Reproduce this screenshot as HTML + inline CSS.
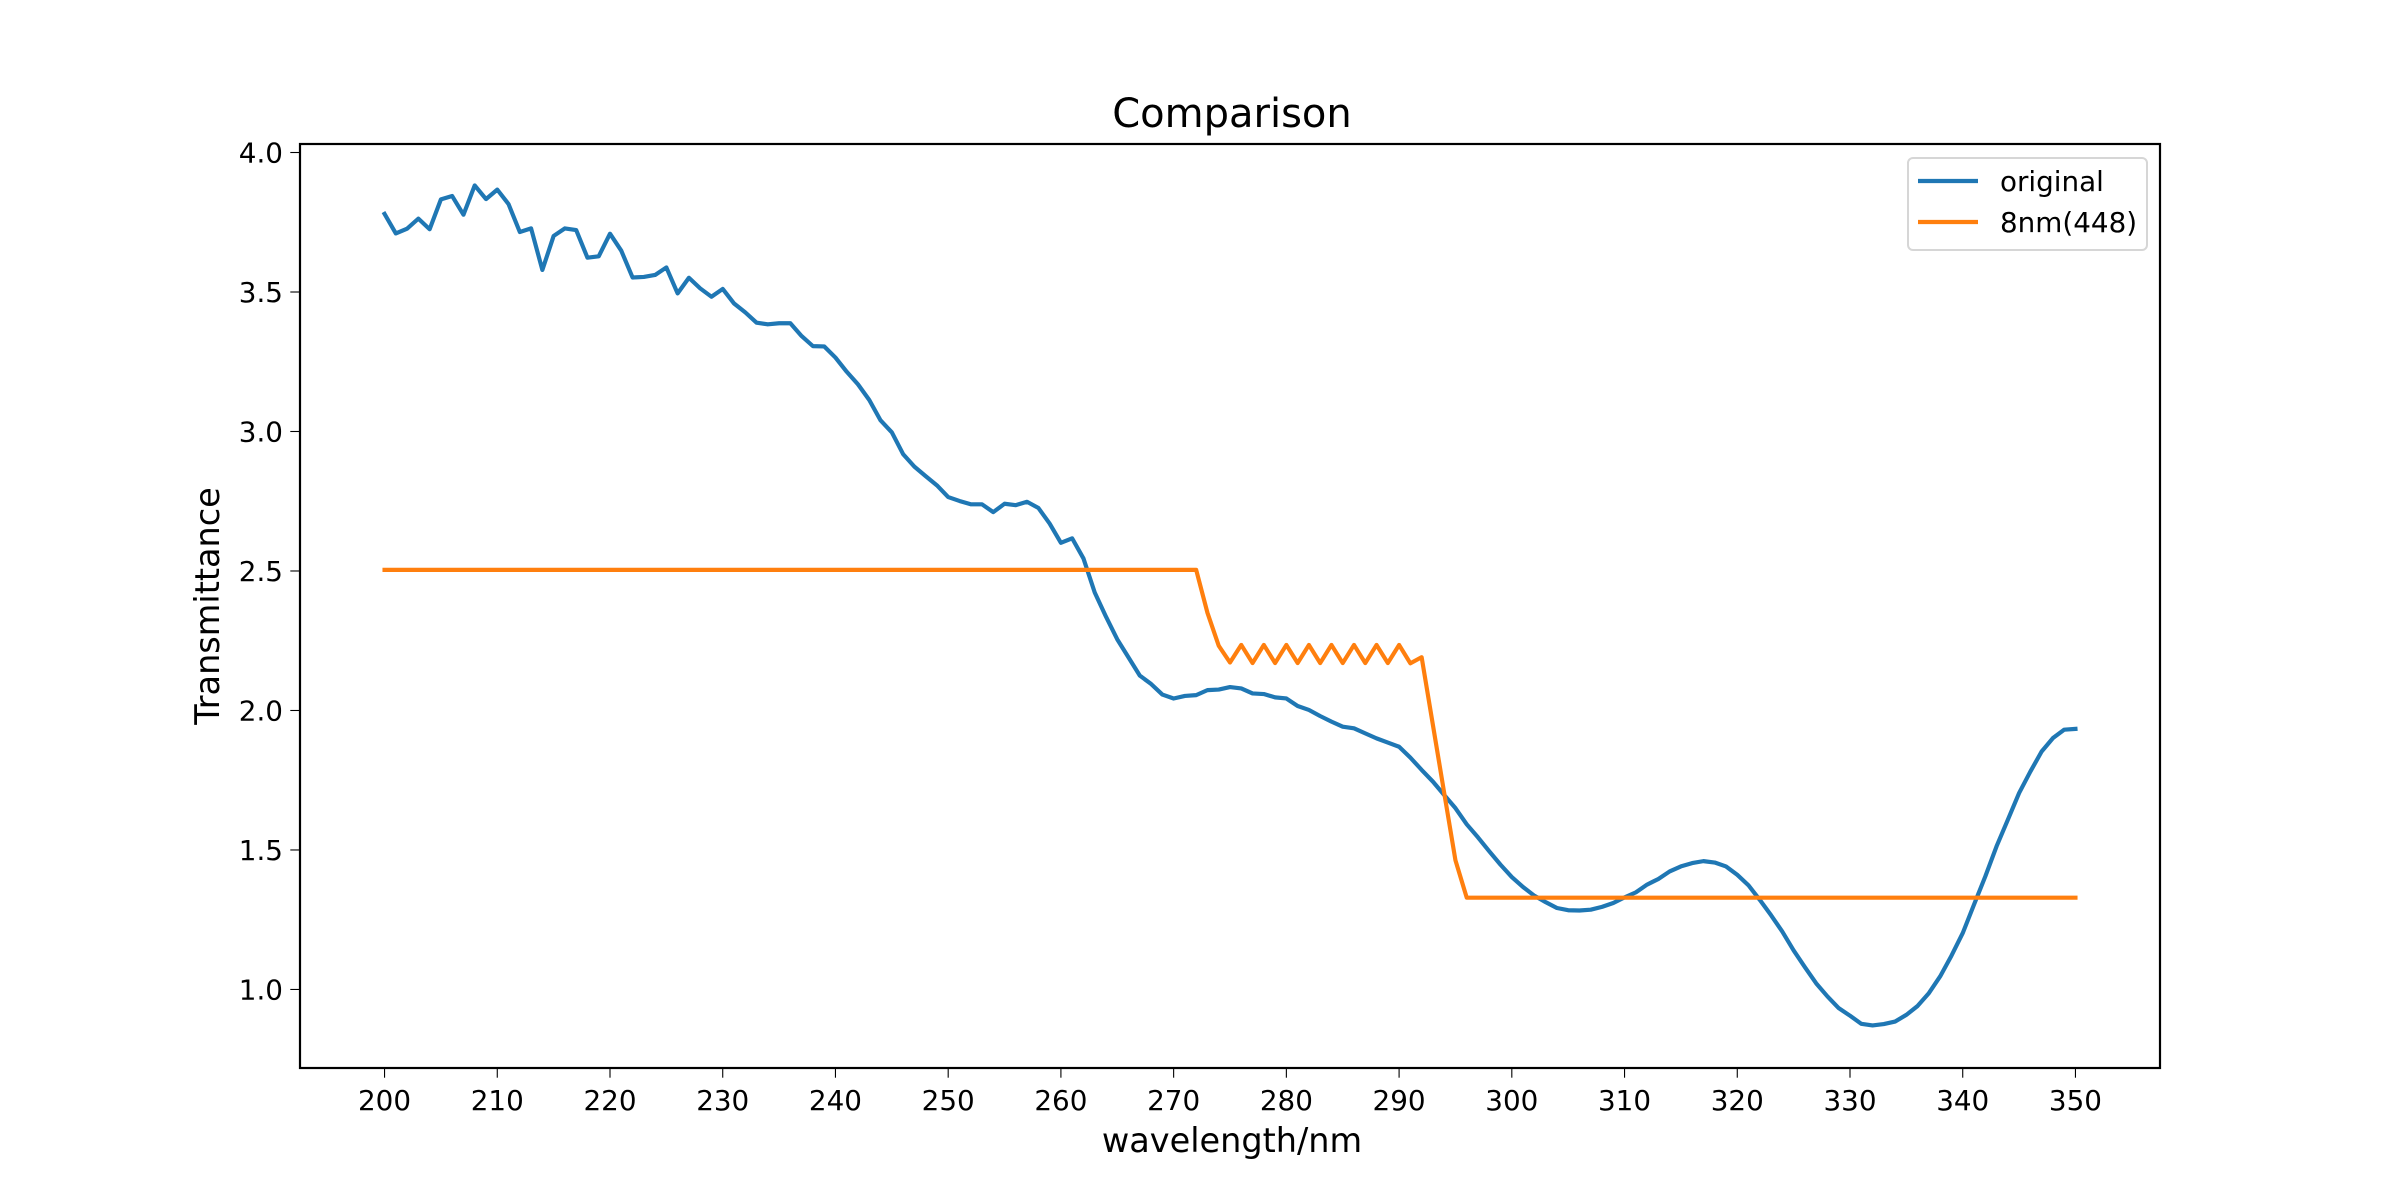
<!DOCTYPE html>
<html><head><meta charset="utf-8"><style>
html,body{margin:0;padding:0;background:#fff;}
svg{display:block;font-family:"DejaVu Sans","Liberation Sans",sans-serif;}
</style></head><body>
<svg id="chart" width="2400" height="1200" viewBox="0 0 2400 1200" xmlns="http://www.w3.org/2000/svg">
<rect x="0" y="0" width="2400" height="1200" fill="#fff"/>
<g id="plot"></g>
<text x="1232" y="127" font-size="40" text-anchor="middle" fill="#000">Comparison</text>
<text x="1232" y="1152" font-size="33.5" text-anchor="middle" fill="#000">wavelength/nm</text>
<text x="219" y="606" font-size="33.5" text-anchor="middle" fill="#000" transform="rotate(-90 219 606)">Transmittance</text>
<g>
<rect x="1908" y="158" width="239" height="92" rx="5" fill="#fff" fill-opacity="0.8" stroke="#d6d6d6" stroke-width="2"/>
<line x1="1918" y1="181" x2="1978" y2="181" stroke="#1f77b4" stroke-width="4.17"/>
<text x="2000" y="191" font-size="27.8" fill="#000">original</text>
<line x1="1918" y1="222" x2="1978" y2="222" stroke="#ff7f0e" stroke-width="4.17"/>
<text x="2000" y="232" font-size="27.8" fill="#000">8nm(448)</text>
</g>
</svg>
<script>
const startNm = 200;
const originalValues = [3.780,3.710,3.727,3.763,3.725,3.832,3.844,3.777,3.882,3.833,3.867,3.815,3.715,3.728,3.579,3.701,3.728,3.722,3.623,3.628,
3.709,3.648,3.552,3.554,3.561,3.588,3.495,3.551,3.513,3.483,3.511,3.459,3.427,3.390,3.384,3.388,3.388,3.342,3.306,3.305,
3.265,3.214,3.169,3.113,3.040,2.997,2.919,2.874,2.840,2.807,2.765,2.751,2.739,2.739,2.711,2.741,2.736,2.748,2.726,2.670,
2.601,2.617,2.545,2.423,2.336,2.255,2.190,2.125,2.095,2.057,2.043,2.052,2.055,2.073,2.075,2.084,2.079,2.061,2.059,2.047,
2.043,2.016,2.002,1.980,1.960,1.942,1.936,1.918,1.900,1.885,1.870,1.831,1.787,1.745,1.697,1.650,1.592,1.545,1.495,1.447,
1.403,1.367,1.336,1.313,1.292,1.284,1.283,1.286,1.296,1.310,1.330,1.348,1.376,1.396,1.423,1.441,1.453,1.460,1.455,1.441,
1.411,1.373,1.321,1.266,1.207,1.140,1.080,1.022,0.975,0.933,0.906,0.877,0.871,0.876,0.885,0.909,0.941,0.987,1.047,1.121,
1.202,1.304,1.405,1.513,1.608,1.704,1.781,1.853,1.901,1.931,1.934];
const smoothedValues = [];
for (let i = 0; i <= 72; i++) smoothedValues.push(2.504);
const smoothedTail = [2.350,2.232,2.172,2.235,2.170,2.235,2.170,2.235,2.170,2.235,2.170,2.235,2.170,2.235,2.170,2.235,2.170,2.235,2.169,2.191,1.948,1.705,1.463];
smoothedTail.forEach(v => smoothedValues.push(v));
while (smoothedValues.length < 151) smoothedValues.push(1.329);
const xTicks = [200,210,220,230,240,250,260,270,280,290,300,310,320,330,340,350];
const yTicks = [1.0,1.5,2.0,2.5,3.0,3.5,4.0];

const L=300,R=2160,T=144,B=1068;
const xMin=192.5,xMax=357.5,yMin=0.7185,yMax=4.0305;
const xs = v => L + (v - xMin) / (xMax - xMin) * (R - L);
const ys = v => B - (v - yMin) / (yMax - yMin) * (B - T);
const NS="http://www.w3.org/2000/svg";
const plot=document.getElementById('plot');
function mk(tag, attrs){const e=document.createElementNS(NS,tag);for(const k in attrs)e.setAttribute(k,attrs[k]);return e;}

xTicks.forEach(t=>{
  const ln=mk('line',{x1:xs(t),x2:xs(t),y1:B,y2:B+9.7,stroke:'#000','stroke-width':1.1});
  
  
  plot.appendChild(ln);
  const tx=mk('text',{x:xs(t),y:B+42,'font-size':27.8,'text-anchor':'middle',fill:'#000'});
  tx.textContent=String(t);
  
  
  plot.appendChild(tx);
});
yTicks.forEach(t=>{
  const ln=mk('line',{x1:L-9.7,x2:L,y1:ys(t),y2:ys(t),stroke:'#000','stroke-width':1.1});
  
  
  plot.appendChild(ln);
  const tx=mk('text',{x:L-17,y:ys(t)+10,'font-size':27.8,'text-anchor':'end',fill:'#000'});
  tx.textContent=t.toFixed(1);
  
  
  plot.appendChild(tx);
});
function series(vals,color,name){
  const pts=vals.map((v,i)=>xs(startNm+i).toFixed(2)+','+ys(v).toFixed(2)).join(' ');
  const p=mk('polyline',{points:pts,fill:'none',stroke:color,'stroke-width':4.17,'stroke-linejoin':'round','stroke-linecap':'square'});
  
  
  plot.appendChild(p);
}
series(originalValues,'#1f77b4','original-line');
series(smoothedValues,'#ff7f0e','8nm-448-line');
const frame=mk('rect',{x:L,y:T,width:R-L,height:B-T,fill:'none',stroke:'#000','stroke-width':2.2});


plot.appendChild(frame);
</script>
</body></html>
